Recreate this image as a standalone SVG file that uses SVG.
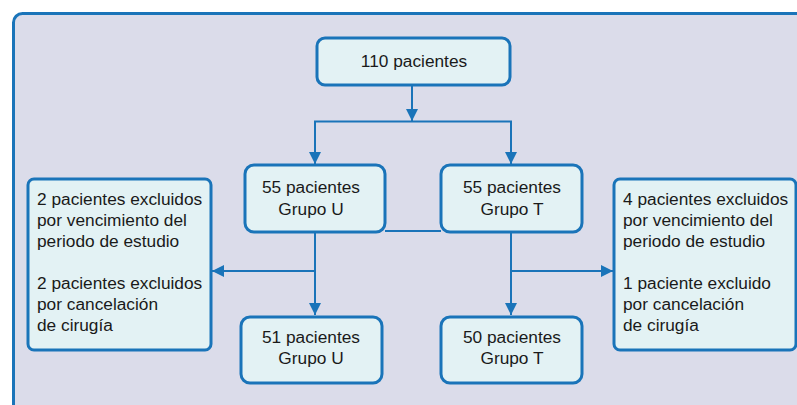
<svg xmlns="http://www.w3.org/2000/svg" width="797" height="405" viewBox="0 0 797 405">
<style>
.box{fill:#e3f2f4;stroke:#1a74b9;stroke-width:3}
.frame{fill:#dbdcea;stroke:#1a74b9;stroke-width:3}
.conn{fill:none;stroke:#1a74b9;stroke-width:2}
text{font-family:"Liberation Sans",Arial,sans-serif;font-size:17.3px;fill:#1a1a1a}
.c{text-anchor:middle}
</style>
<defs>
<marker id="ah" markerUnits="userSpaceOnUse" markerWidth="14" markerHeight="14" viewBox="0 0 14 14" refX="13" refY="7" orient="auto">
<path d="M1,1 L13,7 L1,13 Z" fill="#1a74b9"/>
</marker>
</defs>
<rect class="frame" x="13.5" y="13.5" width="800" height="420" rx="9"/>
<g id="connectors">
<line class="conn" x1="412" y1="86" x2="412" y2="121" marker-end="url(#ah)"/>
<polyline class="conn" points="315,164 315,121.5 511,121.5 511,164"/>
<line class="conn" x1="315" y1="121.5" x2="315" y2="164" marker-end="url(#ah)"/>
<line class="conn" x1="511" y1="121.5" x2="511" y2="164" marker-end="url(#ah)"/>
<line class="conn" x1="385" y1="231" x2="441" y2="231"/>
<line class="conn" x1="315" y1="233" x2="315" y2="315" marker-end="url(#ah)"/>
<line class="conn" x1="315" y1="271" x2="212" y2="271" marker-end="url(#ah)"/>
<line class="conn" x1="511" y1="233" x2="511" y2="315" marker-end="url(#ah)"/>
<line class="conn" x1="511" y1="271" x2="613" y2="271" marker-end="url(#ah)"/>
</g>
<g id="n110">
<rect class="box" x="317" y="38" width="193" height="47" rx="8"/>
<text class="c" x="414" y="67">110 pacientes</text>
</g>
<g id="n55u">
<rect class="box" x="245" y="165" width="140" height="67" rx="9"/>
<text class="c" x="311" y="193">55 pacientes</text>
<text class="c" x="311" y="215">Grupo U</text>
</g>
<g id="n55t">
<rect class="box" x="441" y="165" width="141" height="67" rx="9"/>
<text class="c" x="512" y="193">55 pacientes</text>
<text class="c" x="512" y="215">Grupo T</text>
</g>
<g id="exclL">
<rect class="box" x="28" y="179" width="183" height="171" rx="6"/>
<text x="37" y="205">2 pacientes excluidos</text>
<text x="37" y="226">por vencimiento del</text>
<text x="37" y="247">periodo de estudio</text>
<text x="37" y="289">2 pacientes excluidos</text>
<text x="37" y="310">por cancelación</text>
<text x="37" y="331">de cirugía</text>
</g>
<g id="exclR">
<rect class="box" x="614" y="179" width="182" height="171" rx="6"/>
<text x="623" y="205">4 pacientes excluidos</text>
<text x="623" y="226">por vencimiento del</text>
<text x="623" y="247">periodo de estudio</text>
<text x="623" y="289">1 paciente excluido</text>
<text x="623" y="310">por cancelación</text>
<text x="623" y="331">de cirugía</text>
</g>
<g id="n51u">
<rect class="box" x="241" y="317" width="141" height="66" rx="9"/>
<text class="c" x="311" y="343">51 pacientes</text>
<text class="c" x="311" y="364">Grupo U</text>
</g>
<g id="n50t">
<rect class="box" x="441" y="317" width="141" height="66" rx="9"/>
<text class="c" x="512" y="343">50 pacientes</text>
<text class="c" x="512" y="364">Grupo T</text>
</g>
</svg>
